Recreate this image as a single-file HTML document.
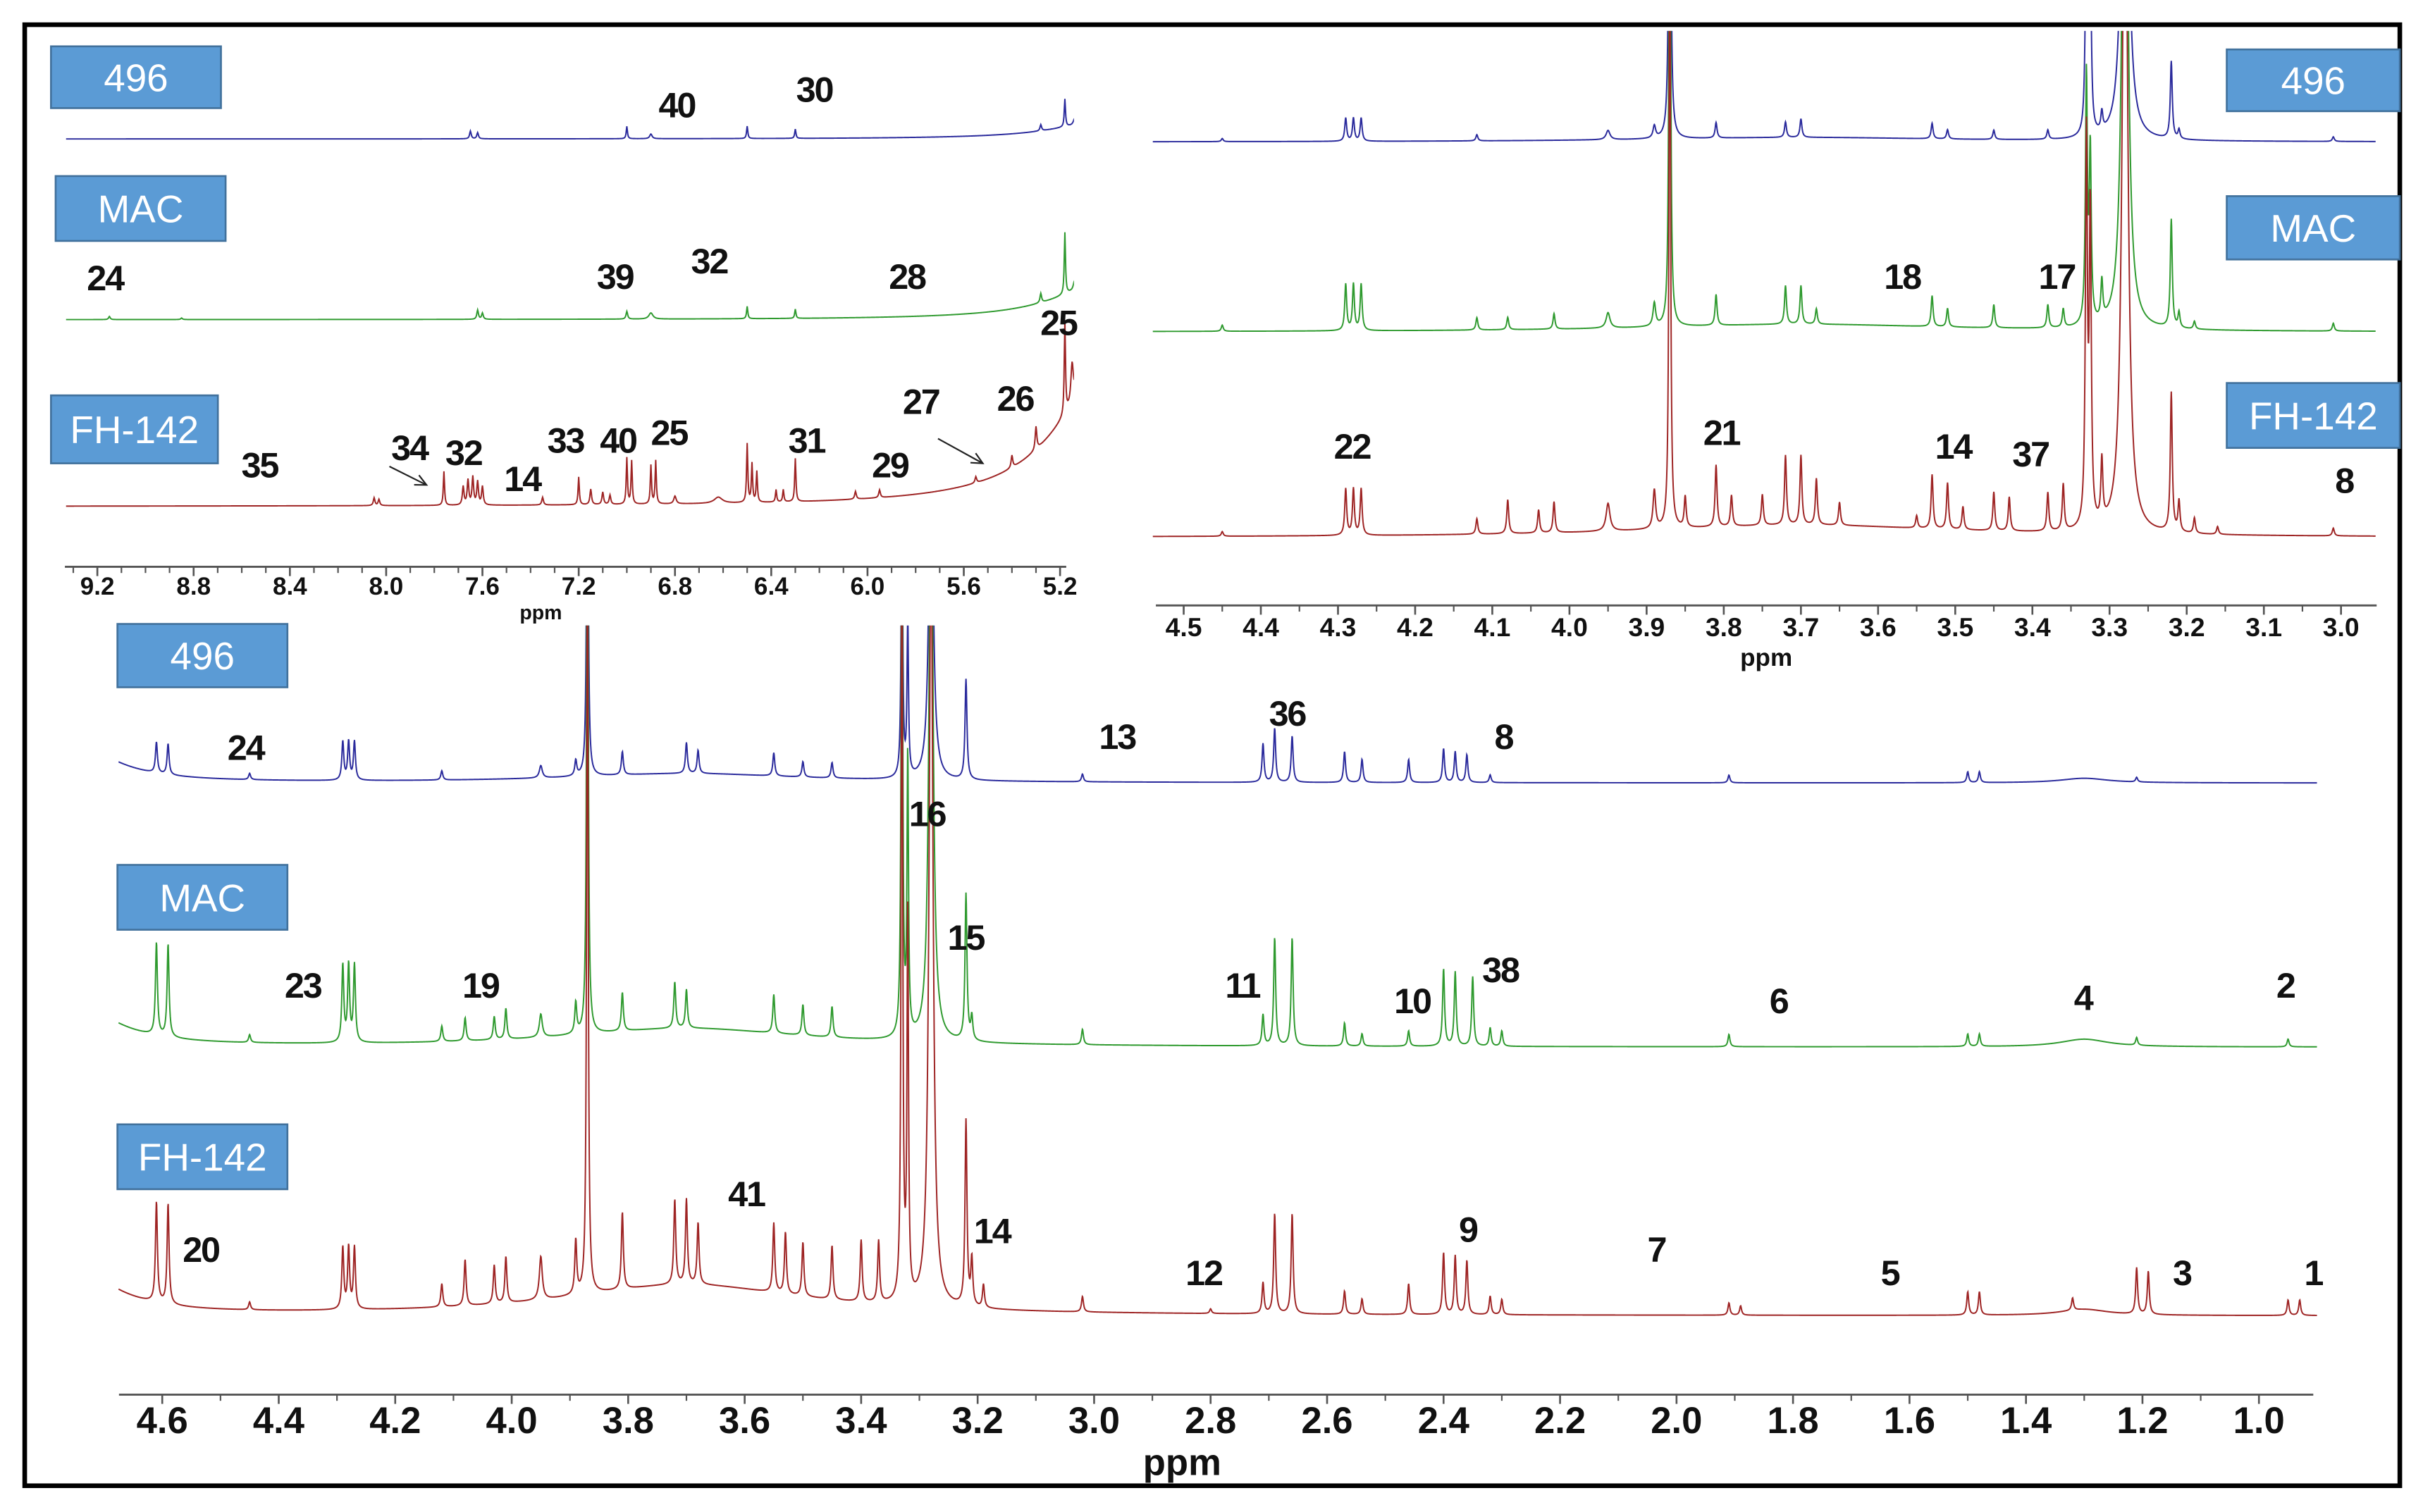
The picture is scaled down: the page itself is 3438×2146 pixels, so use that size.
<!DOCTYPE html>
<html><head><meta charset="utf-8"><style>
html,body{margin:0;padding:0;background:#fff;}
svg{display:block;}
.lab{font-family:"Liberation Sans",sans-serif;font-size:23px;font-weight:bold;fill:#111;text-anchor:middle;letter-spacing:-1px;}
.tick{font-family:"Liberation Sans",sans-serif;font-weight:bold;fill:#111;text-anchor:middle;}
.box{fill:#5b9bd5;stroke:#41719c;stroke-width:1.2;}
.boxt{font-family:"Liberation Sans",sans-serif;font-size:25px;fill:#fff;text-anchor:middle;}
</style></head><body>
<svg id="fig" width="3438" height="2146" viewBox="0 0 1568 979" preserveAspectRatio="none" xmlns="http://www.w3.org/2000/svg">
<rect x="0" y="0" width="1568" height="979" fill="#fff"/>
<rect x="16" y="16" width="1537" height="946" fill="none" stroke="#000" stroke-width="3"/>
<defs>
<clipPath id="cTL"><rect x="40" y="20" width="655" height="350"/></clipPath>
<clipPath id="cTR"><rect x="745" y="20" width="800" height="372"/></clipPath>
<clipPath id="cB"><rect x="75" y="405" width="1425" height="498"/></clipPath>
</defs>
<g id="layer"></g>
</svg>
<script>
// ---------- data: peaks [ppm, height, halfwidth] ----------
const tlFH=[[5.0,90,0.25],[8.05,5,0.004],[8.03,4,0.004],[7.76,22,0.003],[7.68,12,0.004],[7.66,16,0.004],[7.64,18,0.004],[7.62,15,0.004],[7.60,12,0.004],[7.35,5,0.004],[7.2,18,0.003],[7.15,10,0.004],[7.1,8,0.004],[7.07,6,0.004],[7.0,30,0.003],[6.98,28,0.003],[6.9,25,0.003],[6.88,28,0.003],[6.8,5,0.006],[6.62,4,0.02],[6.5,38,0.003],[6.48,25,0.003],[6.46,20,0.003],[6.38,8,0.003],[6.35,8,0.003],[6.3,28,0.003],[6.05,5,0.004],[5.95,5,0.004],[5.55,4,0.004],[5.4,8,0.004],[5.3,15,0.004],[5.18,60,0.003],[5.15,25,0.006],[5.13,25,0.006]];
const tlMAC=[[5.0,25,0.25],[9.15,2,0.004],[8.85,1,0.004],[7.62,6,0.004],[7.6,4,0.004],[7.0,5,0.004],[6.9,4,0.01],[6.5,8,0.003],[6.3,6,0.003],[5.28,6,0.004],[5.18,40,0.003],[5.14,6,0.006]];
const tlB=[[5.0,12,0.25],[7.65,5,0.004],[7.62,4,0.004],[7.0,8,0.003],[6.9,3,0.006],[6.5,8,0.003],[6.3,6,0.003],[5.28,4,0.004],[5.18,18,0.003],[5.14,4,0.006]];

const trFH=[[3.7,8,0.25],[4.45,3,0.0015],[4.29,30,0.0015],[4.28,30,0.0015],[4.27,30,0.0015],[4.12,10,0.0015],[4.08,22,0.0015],[4.04,15,0.0015],[4.02,20,0.0015],[3.95,18,0.003],[3.89,25,0.002],[3.87,400,0.0012],[3.85,20,0.0015],[3.81,40,0.0015],[3.79,20,0.0015],[3.75,20,0.0015],[3.72,45,0.0015],[3.70,45,0.0015],[3.68,30,0.0015],[3.65,15,0.0015],[3.55,8,0.0015],[3.53,35,0.0015],[3.51,30,0.0015],[3.49,15,0.0015],[3.45,25,0.0015],[3.43,22,0.0015],[3.38,25,0.0015],[3.36,30,0.0015],[3.33,250,0.0015],[3.325,200,0.0015],[3.31,40,0.0015],[3.28,500,0.004],[3.22,90,0.0015],[3.21,20,0.0015],[3.19,10,0.0015],[3.16,5,0.0015],[3.01,5,0.0015]];
const trMAC=[[3.7,5,0.25],[4.45,4,0.0015],[4.29,30,0.0015],[4.28,30,0.0015],[4.27,30,0.0015],[4.12,8,0.0015],[4.08,8,0.0015],[4.02,10,0.0015],[3.95,10,0.003],[3.89,15,0.002],[3.87,400,0.0012],[3.81,20,0.0015],[3.72,25,0.0015],[3.70,25,0.0015],[3.68,10,0.0015],[3.53,20,0.0015],[3.51,12,0.0015],[3.45,15,0.0015],[3.38,15,0.0015],[3.36,12,0.0015],[3.33,160,0.0015],[3.325,110,0.0015],[3.31,25,0.0015],[3.28,450,0.004],[3.22,70,0.0015],[3.21,10,0.0015],[3.19,5,0.0015],[3.01,5,0.0015]];
const trB=[[3.7,3,0.25],[4.45,2,0.0015],[4.29,15,0.0015],[4.28,15,0.0015],[4.27,15,0.0015],[4.12,4,0.0015],[3.95,6,0.003],[3.89,8,0.002],[3.87,400,0.0012],[3.81,10,0.0015],[3.72,10,0.0015],[3.70,12,0.0015],[3.53,10,0.0015],[3.51,6,0.0015],[3.45,6,0.0015],[3.38,6,0.0015],[3.33,160,0.0015],[3.325,120,0.0015],[3.31,12,0.0015],[3.28,400,0.004],[3.22,50,0.0015],[3.21,6,0.0015],[3.01,3,0.0015]];

const bFH=[[4.75,30,0.08],[3.7,20,0.25],[1.3,4,0.05],[4.61,65,0.002],[4.59,65,0.002],[4.45,5,0.002],[4.29,40,0.002],[4.28,40,0.002],[4.27,40,0.002],[4.12,15,0.002],[4.08,30,0.002],[4.03,25,0.002],[4.01,30,0.002],[3.95,28,0.003],[3.89,35,0.002],[3.87,500,0.0015],[3.81,50,0.002],[3.72,55,0.002],[3.70,55,0.002],[3.68,40,0.002],[3.55,45,0.002],[3.53,40,0.002],[3.50,35,0.002],[3.45,35,0.002],[3.40,40,0.002],[3.37,40,0.002],[3.33,500,0.0015],[3.32,250,0.0015],[3.28,500,0.004],[3.22,120,0.002],[3.21,30,0.002],[3.19,15,0.002],[3.02,10,0.002],[2.80,3,0.002],[2.71,20,0.002],[2.69,65,0.002],[2.66,65,0.002],[2.57,15,0.002],[2.54,10,0.002],[2.46,20,0.002],[2.40,40,0.002],[2.38,38,0.002],[2.36,35,0.002],[2.32,12,0.002],[2.30,10,0.002],[1.91,8,0.002],[1.89,6,0.002],[1.50,15,0.002],[1.48,15,0.002],[1.32,8,0.002],[1.21,30,0.002],[1.19,28,0.002],[0.95,10,0.002],[0.93,10,0.002]];
const bMAC=[[4.75,28,0.08],[3.7,12,0.25],[1.3,5,0.05],[4.61,60,0.002],[4.59,60,0.002],[4.45,5,0.002],[4.29,50,0.002],[4.28,50,0.002],[4.27,50,0.002],[4.12,10,0.002],[4.08,15,0.002],[4.03,15,0.002],[4.01,20,0.002],[3.95,15,0.003],[3.89,20,0.002],[3.87,450,0.0015],[3.81,25,0.002],[3.72,30,0.002],[3.70,25,0.002],[3.55,25,0.002],[3.50,20,0.002],[3.45,20,0.002],[3.33,400,0.0015],[3.32,180,0.0015],[3.28,400,0.004],[3.22,95,0.002],[3.21,15,0.002],[3.02,10,0.002],[2.71,20,0.002],[2.69,70,0.002],[2.66,70,0.002],[2.57,15,0.002],[2.54,8,0.002],[2.46,10,0.002],[2.40,50,0.002],[2.38,48,0.002],[2.35,45,0.002],[2.32,12,0.002],[2.30,10,0.002],[1.91,8,0.002],[1.50,8,0.002],[1.48,8,0.002],[1.21,5,0.002],[0.95,5,0.002]];
const bB=[[4.75,25,0.08],[3.7,6,0.25],[1.3,3,0.05],[4.61,20,0.002],[4.59,20,0.002],[4.45,4,0.002],[4.29,25,0.002],[4.28,25,0.002],[4.27,25,0.002],[4.12,6,0.002],[3.95,8,0.003],[3.89,10,0.002],[3.87,300,0.0015],[3.81,15,0.002],[3.70,20,0.002],[3.68,15,0.002],[3.55,15,0.002],[3.50,10,0.002],[3.45,10,0.002],[3.33,200,0.0015],[3.32,100,0.0015],[3.28,250,0.004],[3.22,65,0.002],[3.02,5,0.002],[2.71,25,0.002],[2.69,35,0.002],[2.66,30,0.002],[2.57,20,0.002],[2.54,15,0.002],[2.46,15,0.002],[2.40,22,0.002],[2.38,20,0.002],[2.36,18,0.002],[2.32,5,0.002],[1.91,5,0.002],[1.50,7,0.002],[1.48,7,0.002],[1.21,3,0.002]];

const tlTicks=["9.2","8.8","8.4","8.0","7.6","7.2","6.8","6.4","6.0","5.6","5.2"];
const trTicks=["4.5","4.4","4.3","4.2","4.1","4.0","3.9","3.8","3.7","3.6","3.5","3.4","3.3","3.2","3.1","3.0"];
const bTicks=["4.6","4.4","4.2","4.0","3.8","3.6","3.4","3.2","3.0","2.8","2.6","2.4","2.2","2.0","1.8","1.6","1.4","1.2","1.0"];

const tlLabels=[["40",438,68],["30",527,58],["24",68,180],["39",398,179],["32",459,169],["28",587,179],["25",685,209],["35",168,301],["34",265,290],["32",300,293],["14",338,310],["33",366,285],["40",400,285],["25",433,280],["31",522,285],["27",596,260],["26",657,258],["29",576,301]];
const trLabels=[["22",875,289],["21",1114,280],["14",1264,289],["37",1314,294],["18",1231,179],["17",1331,179],["8",1517,311]];
const bLabels=[["24",159,484],["13",723,477],["36",833,462],["8",973,477],["16",600,527],["15",625,607],["23",196,638],["19",311,638],["11",804,638],["10",914,648],["38",971,628],["6",1151,648],["4",1348,646],["2",1479,638],["20",130,809],["41",483,773],["14",642,797],["12",779,824],["9",950,796],["7",1072,809],["5",1223,824],["3",1412,824],["1",1497,824]];

// ---------- drawing ----------
const NS="http://www.w3.org/2000/svg";
const layer=document.getElementById('layer');
function mk(tag,attrs,parent){const e=document.createElementNS(NS,tag);for(const k in attrs)e.setAttribute(k,attrs[k]);(parent||layer).appendChild(e);return e;}

const panels={
 tl:{x:p=>63+(9.2-p)*155.75,hi:9.33,lo:5.12,step:0.002,clip:'cTL',axY:367,ax0:42,ax1:690,fs:16,lblY:385,ppm:[350,401,13],maj:0.4,min:0.1,ticks:tlTicks},
 tr:{x:p=>766+(4.5-p)*499.3,hi:4.54,lo:2.955,step:0.0004,clip:'cTR',axY:392,ax0:748,ax1:1538,fs:17,lblY:412,ppm:[1143,431,16],maj:0.1,min:0.05,ticks:trTicks},
 b:{x:p=>105+(4.6-p)*376.9,hi:4.675,lo:0.9,step:0.0006,clip:'cB',axY:903,ax0:77,ax1:1497,fs:24,lblY:928,ppm:[765,955,24],maj:0.2,min:0.1,ticks:bTicks}
};
function trace(panel,peaks,base,color,name){
 const P=panels[panel];let d="";
 for(let p=P.hi;p>=P.lo;p-=P.step){
  let s=0;for(const k of peaks){const u=(p-k[0])/k[2];s+=k[1]/(1+u*u);}
  d+=(d?"L":"M")+P.x(p).toFixed(2)+","+(base-s).toFixed(2);
 }
 const e=mk('path',{d:d,fill:'none',stroke:color,'stroke-width':0.9,'clip-path':'url(#'+P.clip+')'});
 
 
}
const BLUE="#2a2a9c",GREEN="#2f9a2f",RED="#9e2424";
trace('tl',tlB,90,BLUE,'tl-496-spectrum');
trace('tl',tlMAC,207,GREEN,'tl-mac-spectrum');
trace('tl',tlFH,328,RED,'tl-fh142-spectrum');
trace('tr',trB,92,BLUE,'tr-496-spectrum');
trace('tr',trMAC,215,GREEN,'tr-mac-spectrum');
trace('tr',trFH,348,RED,'tr-fh142-spectrum');
trace('b',bB,507,BLUE,'bottom-496-spectrum');
trace('b',bMAC,678,GREEN,'bottom-mac-spectrum');
trace('b',bFH,852,RED,'bottom-fh142-spectrum');

function axis(panel,name){
 const P=panels[panel];
 const g=mk('g',{});
 
 
 mk('line',{x1:P.ax0,x2:P.ax1,y1:P.axY,y2:P.axY,stroke:'#555','stroke-width':1.3},g);
 const first=parseFloat(P.ticks[0]),last=parseFloat(P.ticks[P.ticks.length-1]);
 for(let p=first+P.min*2;p>=last-P.min*2-1e-9;p-=P.min){
  const x=P.x(p);if(x<P.ax0||x>P.ax1)continue;
  mk('line',{x1:x,x2:x,y1:P.axY,y2:P.axY+4,stroke:'#555','stroke-width':1},g);
 }
 for(const t of P.ticks){
  const x=P.x(parseFloat(t));
  mk('line',{x1:x,x2:x,y1:P.axY,y2:P.axY+6,stroke:'#555','stroke-width':1.2},g);
  const tx=mk('text',{x:x,y:P.lblY,'class':'tick','font-size':P.fs},g);tx.textContent=t;
 }
 const pp=mk('text',{x:P.ppm[0],y:P.ppm[1],'class':'tick','font-size':P.ppm[2]},g);pp.textContent="ppm";
}
axis('tl','tl-x-axis');axis('tr','tr-x-axis');axis('b','bottom-x-axis');

function labels(arr,prefix){
 for(const l of arr){
  const t=mk('text',{x:l[1],y:l[2]+8,'class':'lab'});
  
  
  t.textContent=l[0];
 }
}
labels(tlLabels,'tl');labels(trLabels,'tr');labels(bLabels,'bottom');

// arrows
const arrows=[[252,302,276,314],[607,284,636,300]];
for(const a of arrows){
 const g=mk('g',{});
 
 
 mk('line',{x1:a[0],y1:a[1],x2:a[2],y2:a[3],stroke:'#222','stroke-width':1},g);
 const ang=Math.atan2(a[3]-a[1],a[2]-a[0]);
 const h1=[a[2]-8*Math.cos(ang-0.45),a[3]-8*Math.sin(ang-0.45)],h2=[a[2]-8*Math.cos(ang+0.45),a[3]-8*Math.sin(ang+0.45)];
 mk('polyline',{points:h1.join(',')+' '+a[2]+','+a[3]+' '+h2.join(','),fill:'none',stroke:'#222','stroke-width':1},g);
}

// sample boxes
const boxes=[["496",33,30,110,40],["MAC",36,114,110,42],["FH-142",33,256,108,44],
 ["496",1441,32,112,40],["MAC",1441,127,112,41],["FH-142",1441,248,112,42],
 ["496",76,404,110,41],["MAC",76,560,110,42],["FH-142",76,728,110,42]];
for(const b of boxes){
 const g=mk('g',{});
 
 
 mk('rect',{x:b[1],y:b[2],width:b[3],height:b[4],'class':'box'},g);
 const t=mk('text',{x:b[1]+b[3]/2,y:b[2]+b[4]/2+9,'class':'boxt'},g);t.textContent=b[0];
}
</script>
</body></html>
